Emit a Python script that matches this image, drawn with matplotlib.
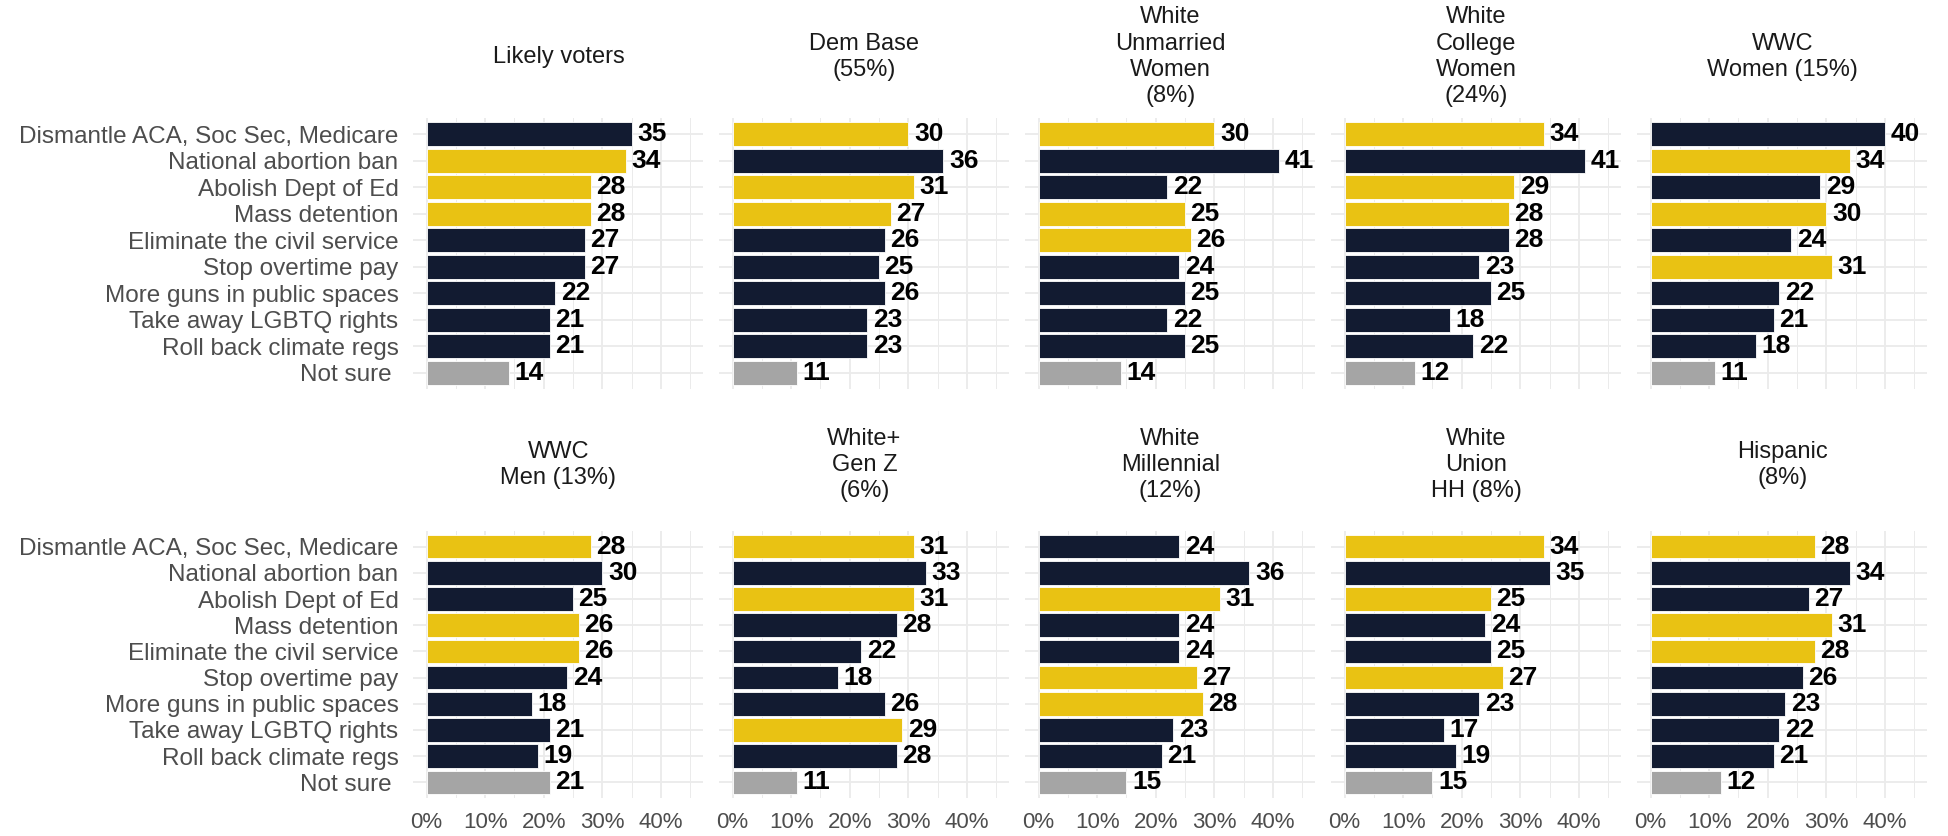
import numpy as np
import matplotlib
matplotlib.use("Agg")
from matplotlib import pyplot as plt

plt.rcParams['font.family'] = ['Liberation Sans', 'DejaVu Sans']

# issues, top to bottom
issues = ["Dismantle ACA, Soc Sec, Medicare", "National abortion ban", "Abolish Dept of Ed",
          "Mass detention", "Eliminate the civil service", "Stop overtime pay",
          "More guns in public spaces", "Take away LGBTQ rights", "Roll back climate regs",
          "Not sure "]

groups = ["Likely voters", "Dem Base\n(55%)", "White\nUnmarried\nWomen\n(8%)",
          "White\nCollege\nWomen\n(24%)", "WWC\nWomen (15%)",
          "WWC\nMen (13%)", "White+\nGen Z\n(6%)", "White\nMillennial\n(12%)",
          "White\nUnion\nHH (8%)", "Hispanic\n(8%)"]

likely_voters  = [35, 34, 28, 28, 27, 27, 22, 21, 21, 14]
dem_base       = [30, 36, 31, 27, 26, 25, 26, 23, 23, 11]
white_unmarr_w = [30, 41, 22, 25, 26, 24, 25, 22, 25, 14]
white_coll_w   = [34, 41, 29, 28, 28, 23, 25, 18, 22, 12]
wwc_women      = [40, 34, 29, 30, 24, 31, 22, 21, 18, 11]
wwc_men        = [28, 30, 25, 26, 26, 24, 18, 21, 19, 21]
white_genz     = [31, 33, 31, 28, 22, 18, 26, 29, 28, 11]
white_mill     = [24, 36, 31, 24, 24, 27, 28, 23, 21, 15]
white_union    = [34, 35, 25, 24, 25, 27, 23, 17, 19, 15]
hispanic       = [28, 34, 27, 31, 28, 26, 23, 22, 21, 12]

# Y = highlighted (top concern), N = other, G = not sure
likely_voters_hl  = "NYYYNNNNNG"
dem_base_hl       = "YNYYNNNNNG"
white_unmarr_w_hl = "YNNYYNNNNG"
white_coll_w_hl   = "YNYYNNNNNG"
wwc_women_hl      = "NYNYNYNNNG"
wwc_men_hl        = "YNNYYNNNNG"
white_genz_hl     = "YNYNNNNYNG"
white_mill_hl     = "NNYNNYYNNG"
white_union_hl    = "YNYNNYNNNG"
hispanic_hl       = "YNNYYNNNNG"

series = [likely_voters, dem_base, white_unmarr_w, white_coll_w, wwc_women,
          wwc_men, white_genz, white_mill, white_union, hispanic]
highlights = [likely_voters_hl, dem_base_hl, white_unmarr_w_hl, white_coll_w_hl, wwc_women_hl,
              wwc_men_hl, white_genz_hl, white_mill_hl, white_union_hl, hispanic_hl]

palette = {'N': '#121b31', 'Y': '#e9c213', 'G': '#a5a5a5'}
grid_col = '#ebebeb'
text_col = '#4d4d4d'

W, H = 1949, 836
fig = plt.figure(figsize=(W / 100, H / 100), dpi=100)

# panel geometry in pixels
pan_left0, pan_w, pan_step = 413.4, 290.0, 306.0
row_top = [118.2, 531.0]
row_bot = [388.5, 798.0]
title_y = [56.7, 465.0]

ypos = np.arange(len(issues))[::-1]

for i, (vals, hl, title) in enumerate(zip(series, highlights, groups)):
    r, c = divmod(i, 5)
    left = pan_left0 + c * pan_step
    ax = fig.add_axes([left / W, 1 - row_bot[r] / H, pan_w / W, (row_bot[r] - row_top[r]) / H])
    cols = [palette[h] for h in hl]
    ax.barh(ypos, vals, height=0.9, color=cols, edgecolor='white', linewidth=0.6, zorder=2)
    for y, v in zip(ypos, vals):
        ax.annotate(str(v), (v, y), xytext=(4, 0), textcoords='offset points',
                    va='center', ha='left', fontsize=19, fontweight='bold', color='black',
                    zorder=3, annotation_clip=False)
    ax.set_xlim(-2.25, 47.25)
    ax.set_ylim(-0.6, len(issues) - 0.4)
    ax.set_xticks([0, 10, 20, 30, 40])
    ax.set_xticks([5, 15, 25, 35, 45], minor=True)
    ax.set_yticks(ypos)
    ax.grid(which='major', color=grid_col, linewidth=1.3, zorder=0)
    ax.grid(which='minor', axis='x', color=grid_col, linewidth=0.7, zorder=0)
    ax.set_axisbelow(True)
    for s in ax.spines.values():
        s.set_visible(False)
    ax.tick_params(which='both', length=0)
    if c == 0:
        ax.set_yticklabels(issues, fontsize=17.5, color=text_col)
        ax.tick_params(axis='y', pad=10.8)
    else:
        ax.set_yticklabels([])
    if r == 1:
        ax.set_xticklabels([f"{t}%" for t in [0, 10, 20, 30, 40]], fontsize=16, color=text_col)
        ax.tick_params(axis='x', pad=10)
    else:
        ax.set_xticklabels([])
    fig.text((left + pan_w / 2) / W, 1 - title_y[r] / H, title, ha='center', va='center',
             fontsize=17, color='#1a1a1a', linespacing=1.25)

fig.savefig('out.png', dpi=100)
